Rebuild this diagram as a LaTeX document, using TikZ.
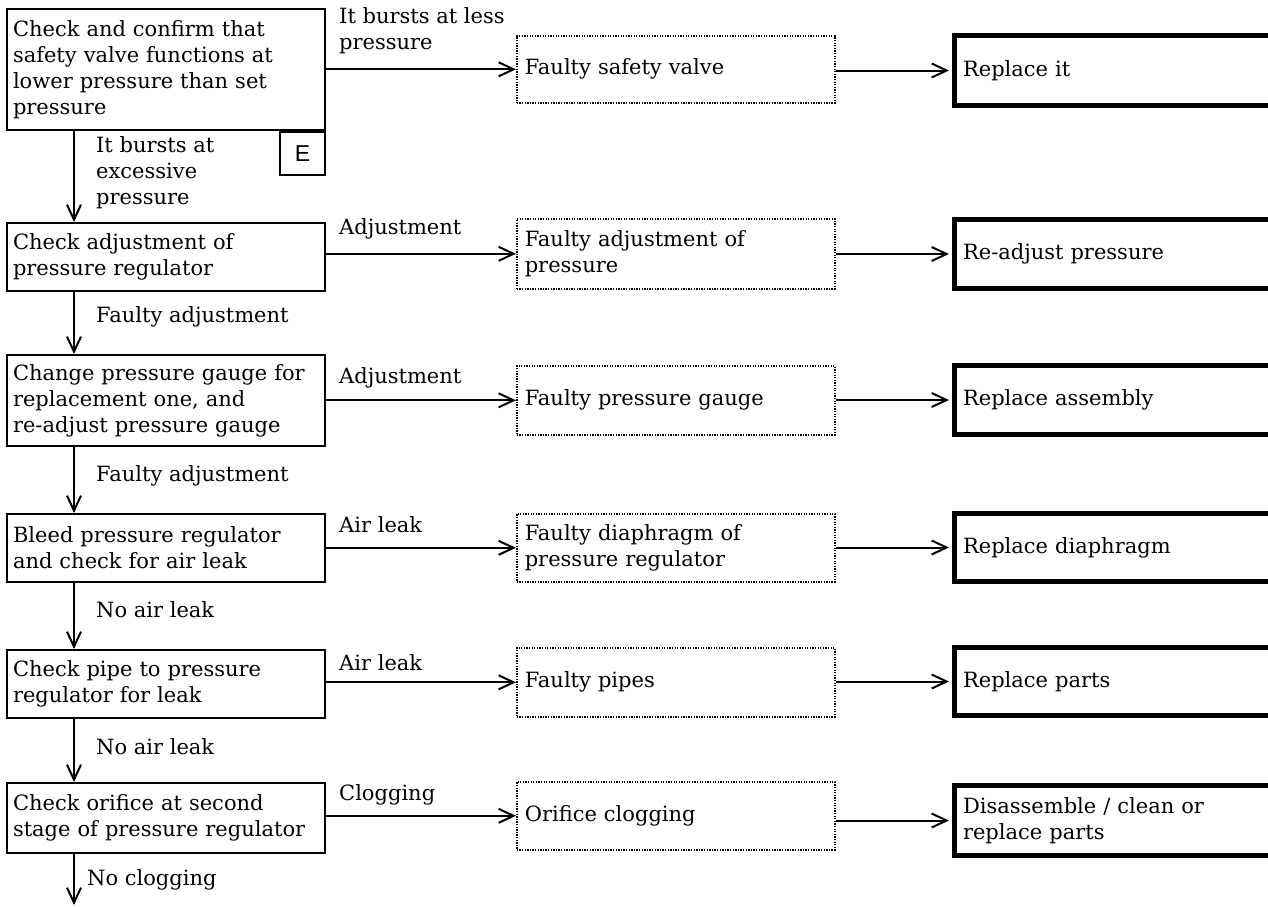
\documentclass[tikz,border=0pt]{standalone}
\usepackage{fontspec}
\setmainfont{DejaVu Serif}
\newfontfamily\efont{Liberation Sans}
\usetikzlibrary{arrows.meta}
\begin{document}
\begin{tikzpicture}[x=1pt,y=-1pt,
  every node/.style={font=\fontsize{21}{26}\selectfont},
  lbox/.style={draw,line width=2pt,anchor=north west,minimum width=318pt,text width=306pt,inner xsep=6pt,inner ysep=0pt,align=left},
  mbox/.style={draw,dash pattern=on 1.3pt off 1.3pt,line width=1.6pt,anchor=north west,minimum width=318pt,text width=302pt,inner xsep=8pt,inner ysep=0pt,align=left},
  rbox/.style={draw,line width=5pt,anchor=north west,minimum width=330pt,text width=312pt,inner xsep=8pt,inner ysep=0pt,align=left},
  lab/.style={anchor=west,inner sep=0pt,align=left},
  arr/.style={line width=2pt,-{Straight Barb[length=15pt,width=14pt,line width=2pt]}}
]
\useasboundingbox (0,0) rectangle (1268,906);
\clip (0,0) rectangle (1268,906);
% left column
\node[lbox,minimum height=121pt] (c1) at (6,8) {Check and confirm that\\safety valve functions at\\lower pressure than set\\pressure};
\node[draw,line width=2pt,anchor=north east,minimum width=45pt,minimum height=43pt,inner sep=0pt,font=\efont\fontsize{23}{26}\selectfont] (e) at (c1.south east) {E};
\node[lbox,minimum height=68pt] (c2) at (6,222) {Check adjustment of\\pressure regulator};
\node[lbox,minimum height=91pt] (c3) at (6,354) {Change pressure gauge for\\replacement one, and\\re-adjust pressure gauge};
\node[lbox,minimum height=68pt] (c4) at (6,513) {Bleed pressure regulator\\and check for air leak};
\node[lbox,minimum height=68pt] (c5) at (6,649) {Check pipe to pressure\\regulator for leak};
\node[lbox,minimum height=70pt] (c6) at (6,782) {Check orifice at second\\stage of pressure regulator};
\coordinate (end) at (74,905);
% middle column
\node[mbox,minimum height=67pt] (m1) at (516,35) {Faulty safety valve};
\node[mbox,minimum height=70pt] (m2) at (516,218) {Faulty adjustment of\\pressure};
\node[mbox,minimum height=69pt] (m3) at (516,365) {Faulty pressure gauge};
\node[mbox,minimum height=68pt] (m4) at (516,513) {Faulty diaphragm of\\pressure regulator};
\node[mbox,minimum height=69pt] (m5) at (516,647) {Faulty pipes};
\node[mbox,minimum height=68pt] (m6) at (516,781) {Orifice clogging};
% right column
\node[rbox,minimum height=70pt] (r1) at (951.5,33) {Replace it};
\node[rbox,minimum height=69pt] (r2) at (951.5,217) {Re-adjust pressure};
\node[rbox,minimum height=69pt] (r3) at (951.5,363) {Replace assembly};
\node[rbox,minimum height=68pt] (r4) at (951.5,511) {Replace diaphragm};
\node[rbox,minimum height=68pt] (r5) at (951.5,645) {Replace parts};
\node[rbox,minimum height=70pt] (r6) at (951.5,783) {Disassemble / clean or\\replace parts};
% vertical arrows
\draw[arr] ([xshift=68pt]c1.south west) -- ([xshift=68pt]c2.north west);
\draw[arr] ([xshift=68pt]c2.south west) -- ([xshift=68pt]c3.north west);
\draw[arr] ([xshift=68pt]c3.south west) -- ([xshift=68pt]c4.north west);
\draw[arr] ([xshift=68pt]c4.south west) -- ([xshift=68pt]c5.north west);
\draw[arr] ([xshift=68pt]c5.south west) -- ([xshift=68pt]c6.north west);
\draw[arr] ([xshift=68pt]c6.south west) -- (end);
% horizontal arrows
\foreach \i in {1,...,6}{
  \draw[arr] (m\i.west -| c\i.east) -- (m\i.west);
  \draw[arr] (r\i.west -| m\i.east) -- ([xshift=-2.5pt]r\i.west);
}
% labels
\node[lab] (l1) at (339,31) {It bursts at less\\pressure};
\node[lab] (l2) at (96,173) {It bursts at\\excessive\\pressure};
\node[lab] (l3) at (339,229) {Adjustment};
\node[lab] (l4) at (96,317) {Faulty adjustment};
\node[lab] (l5) at (339,378) {Adjustment};
\node[lab] (l6) at (96,476) {Faulty adjustment};
\node[lab] (l7) at (339,525) {Air leak};
\node[lab] (l8) at (96,610) {No air leak};
\node[lab] (l9) at (339,663) {Air leak};
\node[lab] (l10) at (96,747) {No air leak};
\node[lab] (l11) at (339,795) {Clogging};
\node[lab] (l12) at (87,880) {No clogging};
\end{tikzpicture}
\end{document}
